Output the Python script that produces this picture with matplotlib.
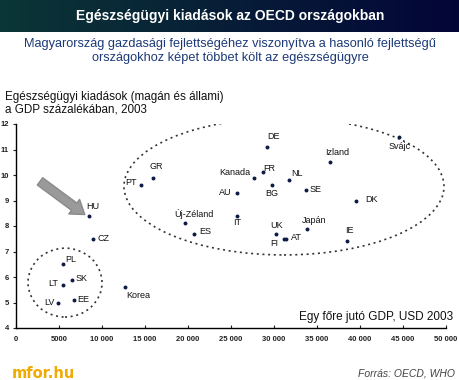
import numpy as np
import matplotlib
matplotlib.use("Agg")
import matplotlib.pyplot as plt
from matplotlib.patches import Ellipse

plt.rcParams["font.family"] = ["Liberation Sans", "DejaVu Sans"]

# ---- data ----
countries = ["HU", "CZ", "PL", "SK", "LT", "EE", "LV", "Korea",
             "DE", "GR", "PT", "Kanada", "FR", "NL", "BG", "AU", "IT",
             "Új-Zéland", "ES", "UK", "FI", "AT", "Svájc", "Izland",
             "SE", "DK", "Japán", "IE"]
gdp = [8490, 8950, 5470, 6510, 5470, 6740, 4880, 12670,
       29220, 15900, 14500, 27670, 28690, 31780, 29730, 25660, 25730,
       19690, 20700, 30270, 31160, 31400, 44530, 36510,
       33720, 39570, 33800, 38450]
health = [8.4, 7.5, 6.5, 5.9, 5.7, 5.1, 5.0, 5.6,
          11.1, 9.9, 9.6, 9.9, 10.1, 9.8, 9.6, 9.3, 8.4,
          8.1, 7.7, 7.7, 7.5, 7.5, 11.5, 10.5,
          9.4, 9.0, 7.9, 7.4]

x_ticks = [0, 5000, 10000, 15000, 20000, 25000, 30000, 35000, 40000, 45000, 50000]
x_tick_labels = ["0", "5000", "10 000", "15 000", "20 000", "25 000",
                 "30 000", "35 000", "40 000", "45 000", "50 000"]
y_ticks = [4, 5, 6, 7, 8, 9, 10, 11, 12]

# label placement: (dx px, dy px, ha)
label_pos = {
    "HU": (-3, 9, "left"), "CZ": (5, 0, "left"), "PL": (2, 5, "left"),
    "SK": (4, 1, "left"), "LT": (-5, 1, "right"), "EE": (3, 0, "left"),
    "LV": (-3, 0, "right"), "Korea": (1, -8, "left"),
    "DE": (6, 10, "center"), "GR": (4, 11, "center"), "PT": (-4, 3, "right"),
    "Kanada": (-4, 5, "right"), "FR": (1, 4, "left"), "NL": (2, 7, "left"),
    "BG": (0, -8, "center"), "AU": (-5, 0, "right"), "IT": (0, -7, "center"),
    "Új-Zéland": (9, 9, "center"), "ES": (5, 2, "left"), "UK": (0, 8, "center"),
    "FI": (-10, -5, "center"), "AT": (5, 1, "left"), "Svájc": (1, -10, "center"),
    "Izland": (7, 10, "center"), "SE": (4, 1, "left"), "DK": (9, 1, "left"),
    "Japán": (7, 8, "center"), "IE": (3, 11, "center"),
}

fig = plt.figure(figsize=(4.6, 3.8), dpi=100)
fig.patch.set_facecolor("white")

# title banner with gradient
bax = fig.add_axes([0, 1 - 32 / 380, 1, 32 / 380])
grad = np.linspace(0, 1, 256)
c0 = np.array([0x0b, 0x36, 0x36]) / 255
c1 = np.array([0x03, 0x05, 0x38]) / 255
img = (c0[None, :] * (1 - grad[:, None]) + c1[None, :] * grad[:, None])[None, :, :]
bax.imshow(img, aspect="auto", extent=[0, 1, 0, 1])
bax.set_axis_off()
bax.text(0.5, 0.5, "Egészségügyi kiadások az OECD országokban", color="white",
         fontsize=10, fontweight="bold", ha="center", va="center")

fig.text(0.5, 1 - 44 / 380, "Magyarország gazdasági fejlettségéhez viszonyítva a hasonló fejlettségű",
         color="#1c3a78", fontsize=9.2, ha="center", va="center")
fig.text(0.5, 1 - 58 / 380, "országokhoz képet többet költ az egészségügyre",
         color="#1c3a78", fontsize=9.2, ha="center", va="center")

fig.text(5 / 460, 1 - 91 / 380,
         "Egészségügyi kiadások (magán és állami)\na GDP százalékában, 2003",
         fontsize=8.4, ha="left", va="top", color="#111", linespacing=1.05)

ax = fig.add_axes([16 / 460, 1 - 328 / 380, 430 / 460, 204 / 380])
ax.set_xlim(0, 50000)
ax.set_ylim(4, 12)
for s in ["top", "right"]:
    ax.spines[s].set_visible(False)
ax.spines["left"].set_linewidth(1.0)
ax.spines["bottom"].set_linewidth(1.0)
ax.set_xticks(x_ticks)
ax.set_xticklabels(x_tick_labels)
ax.set_yticks(y_ticks)
ax.tick_params(axis="x", direction="in", length=2, labelsize=5.5, pad=6, colors="#222")
ax.tick_params(axis="y", direction="out", length=2, labelsize=5.5, pad=3, colors="#222")
for lbl in ax.get_xticklabels() + ax.get_yticklabels():
    lbl.set_fontweight("bold")

ax.add_patch(Ellipse((31160, 9.55), 37210, 5.37, fill=False, ec="#333",
                     lw=1.2, linestyle=(0, (1.2, 2.2))))
ax.add_patch(Ellipse((5700, 5.78), 8600, 2.7, fill=False, ec="#333",
                     lw=1.2, linestyle=(0, (1.2, 2.2))))

ax.annotate("", xy=(8000, 8.45), xytext=(2790, 9.75),
            arrowprops=dict(arrowstyle="simple,head_width=1.3,head_length=0.95,tail_width=0.65",
                            fc="#9a9a9a", ec="#8a8a8a", shrinkA=0, shrinkB=0,
                            mutation_scale=10))

ax.scatter(gdp, health, s=8, color="#0d1b45", zorder=3, linewidths=0)
for name, gx, hy in zip(countries, gdp, health):
    dx, dy, ha = label_pos[name]
    ax.annotate(name, (gx, hy), xytext=(dx, dy), textcoords="offset pixels",
                ha=ha, va="center", fontsize=6.5, color="#111")

fig.text(453 / 460, 1 - 317 / 380, "Egy főre jutó GDP, USD 2003",
         ha="right", va="center", fontsize=8.5, color="#111")

fig.text(12 / 460, 1 - 373 / 380, "mfor.hu", color="#f0aa00", fontsize=10.5,
         fontweight="bold", family="DejaVu Sans", ha="left", va="center")
fig.text(455 / 460, 1 - 373 / 380, "Forrás: OECD, WHO", color="#444", fontsize=7.5,
         fontstyle="italic", ha="right", va="center")

fig.savefig("out.png", dpi=100)
